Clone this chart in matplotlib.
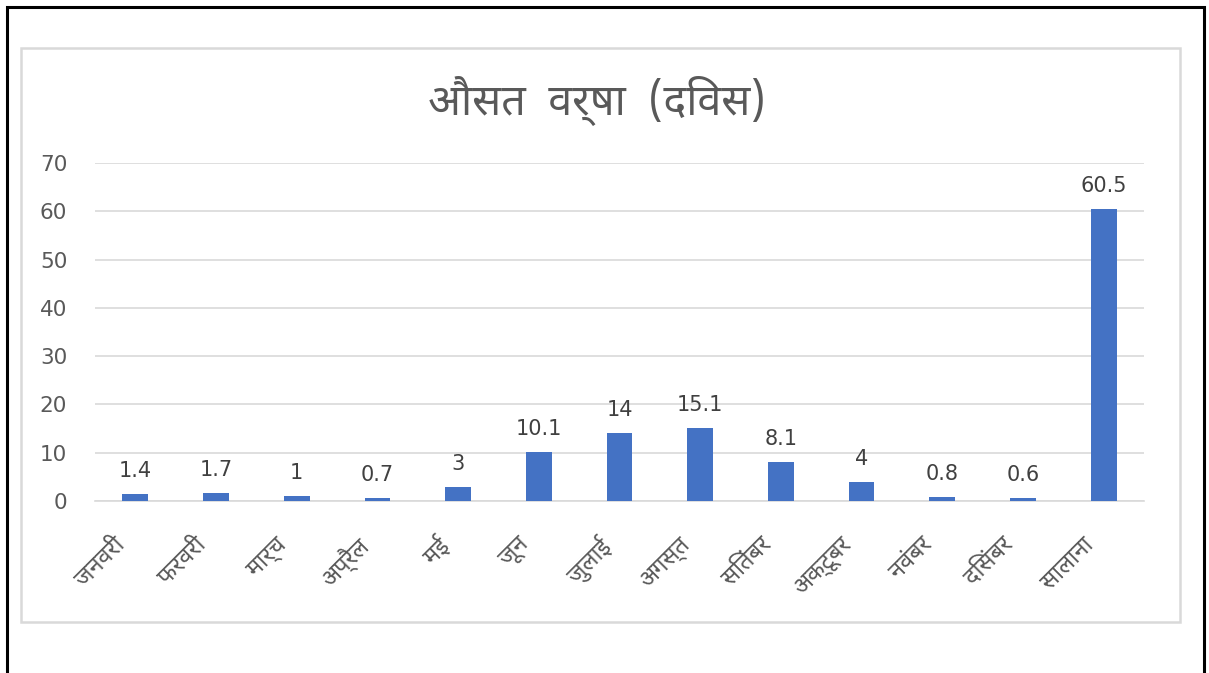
import matplotlib
matplotlib.use("Agg")
import matplotlib.pyplot as plt
import matplotlib.transforms as mtrans
from matplotlib.patches import Rectangle

months = ["जनवरी", "फरवरी", "मार्च", "अप्रैल", "मई", "जून", "जुलाई",
          "अगस्त", "सितंबर", "अक्टूबर", "नवंबर", "दिसंबर", "सालाना"]
rain_days = [1.4, 1.7, 1, 0.7, 3, 10.1, 14, 15.1, 8.1, 4, 0.8, 0.6, 60.5]
value_labels = ["1.4", "1.7", "1", "0.7", "3", "10.1", "14", "15.1", "8.1", "4", "0.8", "0.6", "60.5"]
yticks = [0, 10, 20, 30, 40, 50, 60, 70]
title = "औसत  वर्षा  (दिवस)"

DEV = ["Noto Sans Devanagari", "Noto Sans", "DejaVu Sans"]
NUM = ["DejaVu Sans"]
plt.rcParams["font.family"] = DEV

W, H = 1209, 673
fig = plt.figure(figsize=(W / 100, H / 100), dpi=100)
fig.patch.set_facecolor("white")

# outer black frame
fig.add_artist(Rectangle((7 / W, -0.01), (1204 - 7) / W, 1 - 7 / H + 0.01,
                         transform=fig.transFigure, fill=False,
                         edgecolor="black", linewidth=2.2))
# inner grey chart frame
fig.add_artist(Rectangle((21 / W, 1 - 622 / H), (1180 - 21) / W, (622 - 48) / H,
                         transform=fig.transFigure, fill=False,
                         edgecolor="#d9d9d9", linewidth=1.8))

ax = fig.add_axes([95 / W, 1 - 501 / H, (1144 - 95) / W, (501 - 163) / H])
x = list(range(len(months)))
ax.bar(x, rain_days, width=0.32, color="#4472C4", zorder=3)
ax.set_xlim(-0.5, len(months) - 0.5)
ax.set_ylim(0, 70)
ax.set_yticks(yticks)
ax.set_yticklabels([str(v) for v in yticks], family=NUM)
ax.grid(axis="y", color="#d9d9d9", linewidth=1.2, zorder=0)
for s in ["top", "right", "left"]:
    ax.spines[s].set_visible(False)
ax.spines["bottom"].set_color("#d9d9d9")
ax.spines["bottom"].set_linewidth(1.2)
ax.tick_params(axis="y", length=0, pad=20, labelsize=15.5, labelcolor="#595959")
ax.tick_params(axis="x", length=0, pad=23)
ax.set_xticks(x)
ax.set_xticklabels(months, rotation=45, ha="right", rotation_mode="anchor",
                   fontsize=17, color="#595959")
offset = mtrans.ScaledTranslation(-22 / 100, 0, fig.dpi_scale_trans)
for lbl in ax.get_xticklabels():
    lbl.set_transform(lbl.get_transform() + offset)

for xi, v, t in zip(x, rain_days, value_labels):
    ax.annotate(t, (xi, v), xytext=(0, 12.2), textcoords="offset points",
                ha="center", va="baseline", fontsize=15, color="#404040",
                family=NUM)

fig.text(597 / W, 1 - 101 / H, title, ha="center", va="center",
         fontsize=31, color="#595959")

fig.savefig("out.png", dpi=100, facecolor="white")
